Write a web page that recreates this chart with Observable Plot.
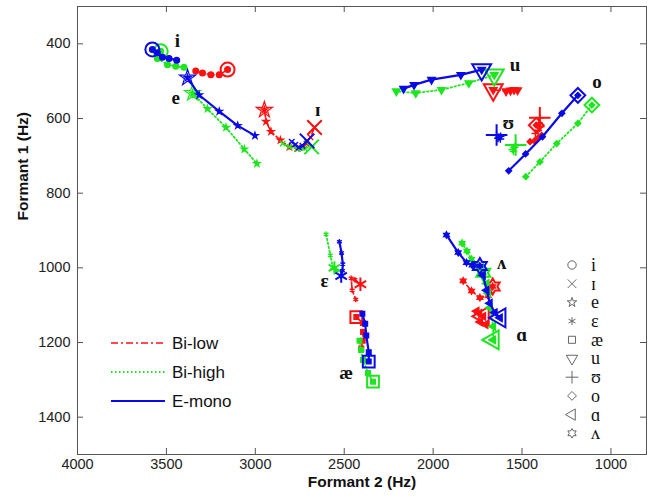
<!DOCTYPE html>
<html><head><meta charset="utf-8">
<script src="https://cdn.jsdelivr.net/npm/d3@7"></script>
<script src="https://cdn.jsdelivr.net/npm/@observablehq/plot@0.6"></script>
<style>
body{margin:0;background:#fff;}
#wrap{position:relative;width:656px;height:496px;}
#wrap svg.overlay{position:absolute;left:0;top:0;pointer-events:none;}
</style></head><body><div id="wrap"></div>
<script>
// ---- data (Formant 2 Hz, Formant 1 Hz); first point of each trajectory carries the big marker ----
const vowels = ["i","ɪ","e","ɛ","æ","u","ʊ","o","ɑ","ʌ"];
const groupNames = ["Bi-low","Bi-high","E-mono"];
const xTicks = [4000,3500,3000,2500,2000,1500,1000];
const yTicks = [400,600,800,1000,1200,1400];

const biLow = [
  ["i", [[3156,469],[3203,483],[3250,483],[3297,478],[3335,473]]],
  ["ɪ", [[2667,624],[2690,650],[2712,668],[2738,678],[2765,682]]],
  ["e", [[2949,577],[2940,608],[2912,635],[2859,658],[2808,676]]],
  ["ɛ", [[2409,1044],[2440,1032],[2461,1028],[2455,1060],[2435,1085]]],
  ["æ", [[2432,1132],[2395,1148],[2394,1172],[2396,1195],[2404,1216]]],
  ["u", [[1662,523],[1590,527],[1565,525],[1545,523],[1525,524]]],
  ["ʊ", [[1400,598],[1405,612],[1395,622],[1410,632],[1425,640]]],
  ["o", [[1420,618],[1389,645],[1410,652],[1430,660],[1455,662]]],
  ["ɑ", [[1718,1130],[1740,1122],[1755,1116],[1735,1145],[1705,1152]]],
  ["ʌ", [[1665,1050],[1690,1075],[1737,1080],[1784,1062],[1831,1035]]]
];
const biHigh = [
  ["i", [[3532,420],[3551,439],[3494,456],[3447,460],[3401,463]]],
  ["ɪ", [[2683,676],[2724,680],[2761,682],[2808,676],[2846,667]]],
  ["e", [[3353,532],[3269,574],[3165,624],[3062,682],[2991,721]]],
  ["ɛ", [[2555,1000],[2545,1008],[2564,999],[2578,966],[2602,910]]],
  ["æ", [[2338,1305],[2366,1282],[2394,1247],[2405,1220],[2414,1195]]],
  ["u", [[1656,483],[1799,505],[1953,523],[2098,532],[2207,527]]],
  ["ʊ", [[1536,671],[1545,678],[1555,683],[1548,688],[1540,676]]],
  ["o", [[1107,564],[1186,613],[1305,667],[1399,716],[1479,756]]],
  ["ɑ", [[1662,1193],[1662,1157],[1681,1107],[1690,1068],[1699,1042]]],
  ["ʌ", [[1718,1013],[1750,995],[1784,977],[1810,955],[1837,934]]]
];
const eMono = [
  ["i", [[3579,415],[3551,424],[3522,436],[3485,439],[3442,444]]],
  ["ɪ", [[2709,660],[2735,673],[2755,678],[2775,670],[2795,662]]],
  ["e", [[3381,491],[3316,537],[3203,581],[3099,619],[3002,646]]],
  ["ɛ", [[2517,1022],[2510,1008],[2508,990],[2515,960],[2527,930]]],
  ["æ", [[2362,1251],[2362,1226],[2376,1181],[2382,1150],[2398,1123]]],
  ["u", [[1727,469],[1844,483],[2009,496],[2107,510],[2166,520]]],
  ["ʊ", [[1643,644],[1630,650],[1622,655],[1635,653],[1620,648]]],
  ["o", [[1186,538],[1276,586],[1385,649],[1480,695],[1575,740]]],
  ["ɑ", [[1624,1134],[1653,1120],[1681,1095],[1699,1060],[1720,1020]]],
  ["ʌ", [[1737,995],[1780,993],[1812,986],[1859,959],[1925,912]]]
];
// vowel label positions (F2, F1)
const labelPos = [
  ["i",3438,392],["ɪ",2649,577],["e",3447,545],["ɛ",2611,1035],["æ",2489,1282],
  ["u",1539,456],["ʊ",1577,613],["o",1079,502],["ɑ",1502,1179],["ʌ",1614,986]
];

// ---- custom symbols ----
const triangleDown = {draw(ctx,size){const R=Math.sqrt(size/1.299);ctx.moveTo(0,R);ctx.lineTo(R*0.866,-R/2);ctx.lineTo(-R*0.866,-R/2);ctx.closePath();}};
const triangleLeft = {draw(ctx,size){const R=Math.sqrt(size/1.299);ctx.moveTo(-R,0);ctx.lineTo(R/2,-R*0.866);ctx.lineTo(R/2,R*0.866);ctx.closePath();}};
const hexagram = {draw(ctx,size){const R=Math.sqrt(size/1.732), r=R/Math.sqrt(3);
  for(let k=0;k<12;k++){const a=k*Math.PI/6-Math.PI/2, rr=k%2?r:R, x=rr*Math.cos(a), y=rr*Math.sin(a); k?ctx.lineTo(x,y):ctx.moveTo(x,y);} ctx.closePath();}};
const symbolOf = {"i":"circle","ɪ":"times","e":"star","ɛ":"asterisk","æ":"square","u":triangleDown,"ʊ":"plus","o":"diamond2","ɑ":triangleLeft,"ʌ":hexagram};
const symScale = {"i":1,"ɪ":0.95,"e":0.72,"ɛ":0.9,"æ":0.95,"u":1,"ʊ":1,"o":0.95,"ɑ":1,"ʌ":0.85};
const smallR = {"i":2.8,"ɪ":2.6,"e":1.9,"ɛ":2.6,"æ":2.6,"u":2.8,"ʊ":2.6,"o":2.6,"ɑ":2.8,"ʌ":2.4};
const d3Sym = {circle:d3.symbolCircle,times:d3.symbolTimes,star:d3.symbolStar,asterisk:d3.symbolAsterisk,square:d3.symbolSquare,plus:d3.symbolPlus,diamond2:d3.symbolDiamond2};

const styles = {
  "Bi-low":  {color:"#ff1010", dash:"7,3,2,3", width:1.6, data:biLow},
  "Bi-high": {color:"#1ee61e", dash:"1.5,2.5", width:1.8, data:biHigh},
  "E-mono":  {color:"#0a0ae6", dash:null, width:2.2, data:eMono}
};

const W=656,H=496,mL=77,mR=10,mT=6,mB=42;
const pw=W-mL-mR, ph=H-mT-mB;

const marks = [];
for (const g of groupNames) {
  const st = styles[g];
  const rows = [];
  for (const [v, pts] of st.data) pts.forEach((p,i)=>rows.push({g, v, i, F2:p[0], F1:p[1], id:g+v}));
  marks.push(Plot.line(rows, {x:"F2", y:"F1", z:"id", stroke:st.color, strokeWidth:st.width, strokeDasharray:st.dash, curve:"linear"}));
  for (const v of vowels) {
    const vr = rows.filter(d=>d.v===v);
    marks.push(Plot.dot(vr, {x:"F2", y:"F1", symbol:symbolOf[v], r:smallR[v], fill:st.color, stroke:st.color, strokeWidth:1.4}));
    marks.push(Plot.dot(vr.filter(d=>d.i===0), {x:"F2", y:"F1", symbol:symbolOf[v], r:7*symScale[v], fill:"none", stroke:st.color, strokeWidth:v==="e"?1.2:2}));
  }
}

const chart = Plot.plot({
  width:W, height:H, marginLeft:mL, marginRight:mR, marginTop:mT, marginBottom:mB,
  style:{fontFamily:"'Liberation Sans', Arial, sans-serif", fontSize:"14px", color:"#222", background:"#fff"},
  x:{domain:[4000,800]},
  y:{domain:[300,1500], reverse:true},
  marks:[
    Plot.axisX(xTicks, {tickSize:0, tickPadding:4, label:null, fontSize:14.5, tickFormat:d=>String(d)}),
    Plot.axisY(yTicks, {tickSize:0, tickPadding:7, label:null, fontSize:14.5, tickFormat:d=>String(d)}),
    Plot.tickX(xTicks, {insetTop:ph-6, stroke:"#555"}),
    Plot.tickX(xTicks, {insetBottom:ph-6, stroke:"#555"}),
    Plot.tickY(yTicks, {insetRight:pw-6, stroke:"#555"}),
    Plot.tickY(yTicks, {insetLeft:pw-6, stroke:"#555"}),
    ...marks,
    Plot.text(labelPos, {x:d=>d[1], y:d=>d[2], text:d=>d[0], fontFamily:"'Liberation Serif','DejaVu Serif',serif", fontSize:19, fontWeight:"bold", fill:"#111"}),
    Plot.frame({stroke:"#555"}),
    Plot.text(["Formant 2 (Hz)"], {text:d=>d, frameAnchor:"bottom", dy:32, fontWeight:"bold", fontSize:15.5, fill:"#111"}),
    Plot.text(["Formant 1 (Hz)"], {text:d=>d, frameAnchor:"left", dx:-54, dy:-10, rotate:-90, fontWeight:"bold", fontSize:15.5, fill:"#111"})
  ]
});
const wrap = document.getElementById("wrap");
wrap.appendChild(chart);

// ---- legends overlay ----
const ov = d3.select(wrap).append("svg").attr("class","overlay").attr("width",W).attr("height",H);
groupNames.forEach((g,k)=>{
  const st = styles[g], y = 343 + k*29;
  ov.append("line").attr("x1",111).attr("x2",165).attr("y1",y).attr("y2",y)
    .attr("stroke",st.color).attr("stroke-width",st.width).attr("stroke-dasharray",st.dash);
  ov.append("text").attr("x",172).attr("y",y).attr("dy","0.35em").text(g)
    .attr("font-family","'Liberation Sans', Arial, sans-serif").attr("font-size",17).attr("fill","#111");
});
vowels.forEach((v,k)=>{
  const y = 265 + k*18.7, s = symbolOf[v];
  const type = typeof s === "string" ? d3Sym[s] : s;
  ov.append("path").attr("transform",`translate(572,${y})`).attr("d", d3.symbol(type, 55*symScale[v]*symScale[v])())
    .attr("fill","none").attr("stroke","#666").attr("stroke-width",1);
  ov.append("text").attr("x",591).attr("y",y).attr("dy","0.33em").text(v)
    .attr("font-family","'Liberation Serif','DejaVu Serif',serif").attr("font-size",18).attr("fill","#111");
});
</script></body></html>
